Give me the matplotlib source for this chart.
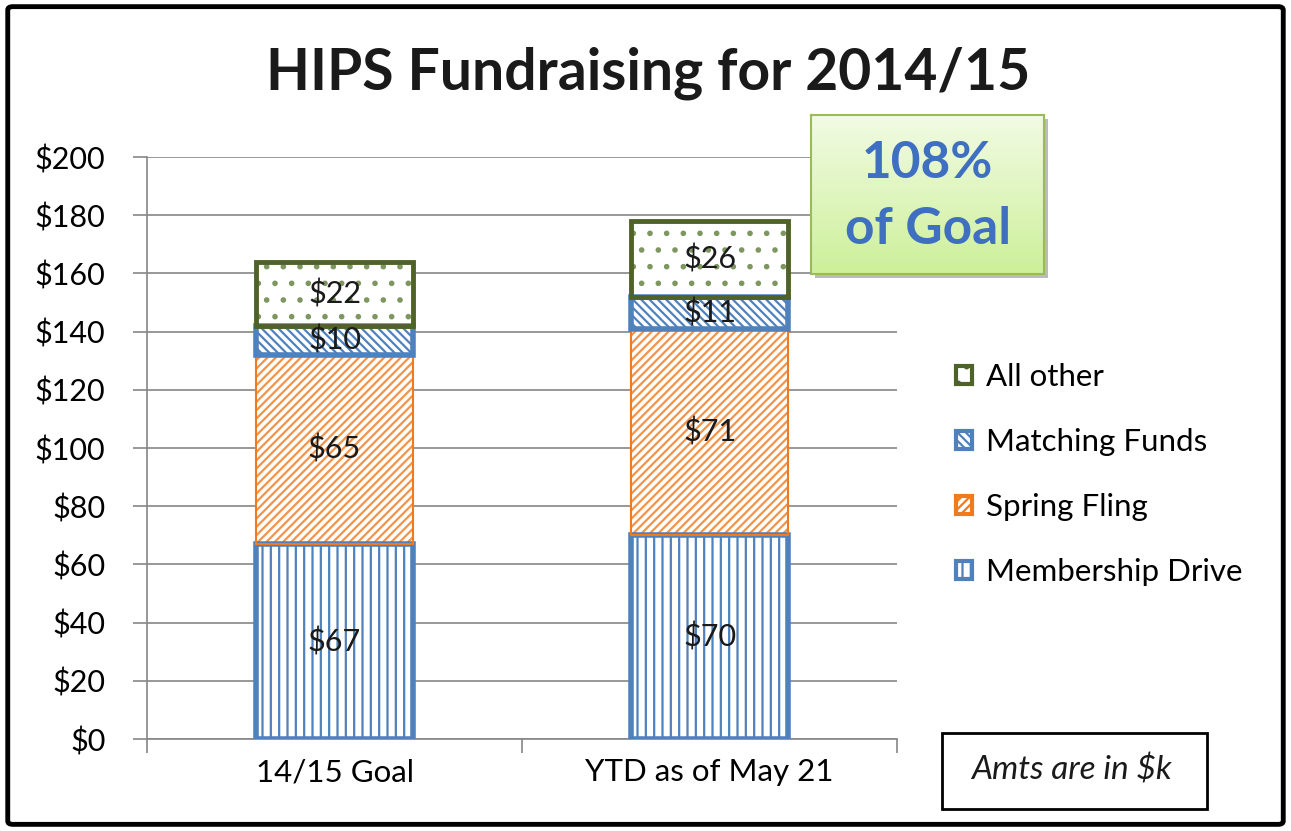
import matplotlib.pyplot as plt
import numpy as np
from matplotlib.patches import FancyBboxPatch, Rectangle
from matplotlib.colors import LinearSegmentedColormap

plt.rcParams['font.family'] = ['Lato', 'DejaVu Sans']
plt.rcParams['hatch.linewidth'] = 1.6

# data (amounts in $k)
categories = ['14/15 Goal', 'YTD as of May 21']
series_names = ['Membership Drive', 'Spring Fling', 'Matching Funds', 'All other']
membership = [67, 70]
spring_fling = [65, 71]
matching = [10, 11]
all_other = [22, 26]
yticks = [0, 20, 40, 60, 80, 100, 120, 140, 160, 180, 200]
pct_of_goal = 108

series = [membership, spring_fling, matching, all_other]
edge_colors = ['#4F81BD', '#F07A1E', '#4F81BD', '#4F6228']
hatch_colors = ['#4F81BD', '#F4944A', '#4F81BD', '#7E9660']
hatches = ['||', '////', '\\\\\\\\', '.']
edge_widths = [4, 1.5, 4, 3.5]

fig = plt.figure(figsize=(12.91, 8.31), dpi=100)
ax = fig.add_axes([0.1139, 0.1107, 0.5809, 0.7003])

x = np.arange(len(categories))
bottom = np.zeros(len(categories))
handles = []
for vals, name, ec, hc, h, lw in zip(series, series_names, edge_colors,
                                     hatch_colors, hatches, edge_widths):
    # hatch layer, then outline layer on top
    ax.bar(x, vals, width=0.42, bottom=bottom, color='white', edgecolor=hc,
           hatch=h, linewidth=0, zorder=3)
    ax.bar(x, vals, width=0.42, bottom=bottom, color='none',
           edgecolor=ec, linewidth=lw, zorder=3.5)
    for xi, b, v in zip(x, bottom, vals):
        ax.text(xi, b + v / 2, f'${v}', ha='center', va='center',
                fontsize=22, color='#1a1a1a', zorder=4)
    handles.append(Rectangle((0, 0), 1, 1, facecolor='white', edgecolor=ec,
                             hatch=h, linewidth=3))
    bottom += np.array(vals)

ax.set_xlim(-0.5, 1.5)
ax.set_ylim(0, 200)
ax.set_yticks(yticks)
ax.set_yticklabels([f'${v}' for v in yticks], fontsize=22)
ax.set_xticks(x)
ax.set_xticklabels(categories, fontsize=22.5)
ax.set_xticks([-0.5, 0.5, 1.5], minor=True)
ax.tick_params(axis='x', which='major', length=0, pad=14)
ax.tick_params(axis='x', which='minor', length=10, color='#868686', width=1.2)
ax.tick_params(axis='y', length=10, color='#868686', width=1.2, pad=20)
ax.grid(axis='y', color='#868686', linewidth=1.2, zorder=0)
for s in ['top', 'right']:
    ax.spines[s].set_visible(False)
for s in ['left', 'bottom']:
    ax.spines[s].set_color('#868686')
    ax.spines[s].set_linewidth(1.2)

fig.text(0.502, 0.912, 'HIPS Fundraising for 2014/15', ha='center', va='center',
         fontsize=41, fontweight='bold', color='#1a1a1a')

leg = fig.legend(handles[::-1], series_names[::-1], loc='center left',
                 bbox_to_anchor=(0.7187, 0.429), frameon=False, fontsize=22.5,
                 handlelength=0.5, handleheight=0.5, labelspacing=1.18,
                 handletextpad=0.45)

# goal box with green gradient
bx0, by0, bw, bh = 0.628, 0.67, 0.181, 0.192
shadow = Rectangle((bx0 + 0.003, by0 - 0.005), bw, bh, transform=fig.transFigure,
                   facecolor='#bbbbbb', edgecolor='none', zorder=5)
fig.add_artist(shadow)
cmap = LinearSegmentedColormap.from_list('g', ['#f2fbe4', '#cdf09a'])
grad_ax = fig.add_axes([bx0, by0, bw, bh], zorder=6)
grad_ax.imshow(np.linspace(0, 1, 100).reshape(-1, 1), cmap=cmap, aspect='auto',
               extent=[0, 1, 0, 1])
grad_ax.set_xticks([])
grad_ax.set_yticks([])
for s in grad_ax.spines.values():
    s.set_color('#9BBB59')
    s.set_linewidth(1.5)
grad_ax.text(0.5, 0.49, f'{pct_of_goal}%\nof Goal', ha='center', va='center',
             fontsize=37, fontweight='bold', color='#3F6FC0', linespacing=1.5,
             transform=grad_ax.transAxes)

# note box
fig.text(0.8296, 0.0734, 'Amts are in $k', ha='center', va='center', fontsize=24,
         style='italic', color='#1a1a1a')
fig.add_artist(Rectangle((0.7297, 0.0265), 0.2053, 0.0915, transform=fig.transFigure,
                         facecolor='none', edgecolor='black', linewidth=2))

# outer border
fig.add_artist(FancyBboxPatch((0.006, 0.008), 0.988, 0.984,
                              boxstyle='round,pad=0,rounding_size=0.004',
                              transform=fig.transFigure, facecolor='none',
                              edgecolor='black', linewidth=3.5))

fig.savefig('out.png', dpi=100)
